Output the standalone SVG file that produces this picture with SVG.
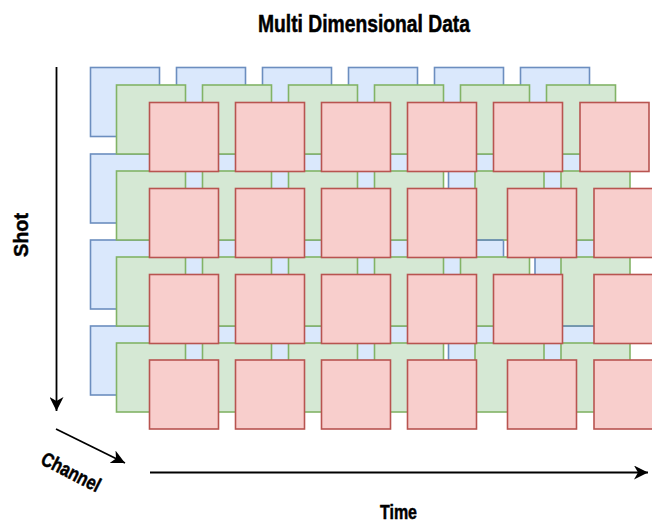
<svg xmlns="http://www.w3.org/2000/svg" width="652" height="523" viewBox="0 0 652 523">
  <style>
    .b { fill: #dae8fc; stroke: #6c8ebf; stroke-width: 1.6; }
    .g { fill: #d5e8d4; stroke: #82b366; stroke-width: 1.6; }
    .r { fill: #f8cecc; stroke: #b85450; stroke-width: 1.6; }
    .be { stroke: #6c8ebf; stroke-width: 1.6; fill: none; }
    .axis { stroke: #000; stroke-width: 1.8; fill: none; }
    .lbl { font-family: "Liberation Sans", Arial, sans-serif; font-weight: bold; fill: #000; stroke: #000; stroke-width: 0.5; }
  </style>
  <defs>
    <marker id="arrow" markerUnits="userSpaceOnUse" markerWidth="16" markerHeight="14" refX="14" refY="7" orient="auto">
      <path d="M0,0 L14,7 L0,14 L4,7 Z" fill="#000"/>
    </marker>
  </defs>
  <rect width="652" height="523" fill="#fff"/>

  <!-- title -->
  <text class="lbl" x="364" y="32" font-size="24" text-anchor="middle" textLength="212" lengthAdjust="spacingAndGlyphs">Multi Dimensional Data</text>

  <!-- back layer (blue) -->
  <g id="blue-layer">
    <g id="b11"><rect class="b" x="90.5" y="67.5" width="69" height="69"/></g>
    <g id="b12"><rect class="b" x="176.5" y="67.5" width="69" height="69"/></g>
    <g id="b13"><rect class="b" x="262.5" y="67.5" width="69" height="69"/></g>
    <g id="b14"><rect class="b" x="348.5" y="67.5" width="69" height="69"/></g>
    <g id="b15"><rect class="b" x="434.5" y="67.5" width="69" height="69"/></g>
    <g id="b16"><rect class="b" x="520.5" y="67.5" width="69" height="69"/></g>

    <g id="b21"><rect class="b" x="90.5" y="154" width="69" height="69"/></g>
    <g id="b22"><rect class="b" x="176.5" y="154" width="69" height="69"/></g>
    <g id="b23"><rect class="b" x="262.5" y="154" width="69" height="69"/></g>
    <g id="b24"><rect class="b" x="348.5" y="154" width="69" height="69"/></g>
    <g id="b25"><rect class="b" x="448.5" y="154" width="69" height="69"/></g>
    <g id="b26"><rect class="b" x="535" y="154" width="69" height="69"/></g>

    <g id="b31"><rect class="b" x="90.5" y="240" width="69" height="69"/></g>
    <g id="b32"><rect class="b" x="176.5" y="240" width="69" height="69"/></g>
    <g id="b33"><rect class="b" x="262.5" y="240" width="69" height="69"/></g>
    <g id="b34"><rect class="b" x="348.5" y="240" width="69" height="69"/></g>
    <g id="b35"><rect class="b" x="434.5" y="240" width="69" height="69"/></g>
    <g id="b36"><rect class="b" x="535" y="240" width="69" height="69"/></g>

    <g id="b41"><rect class="b" x="90.5" y="326" width="69" height="69"/></g>
    <g id="b42"><rect class="b" x="176.5" y="326" width="69" height="69"/></g>
    <g id="b43"><rect class="b" x="262.5" y="326" width="69" height="69"/></g>
    <g id="b44"><rect class="b" x="348.5" y="326" width="69" height="69"/></g>
    <g id="b45"><rect class="b" x="448.5" y="326" width="69" height="69"/></g>
    <g id="b46"><rect class="b" x="535" y="326" width="69" height="69"/></g>
  </g>

  <!-- middle layer (green) -->
  <g id="green-layer">
    <g id="g11"><rect class="g" x="116.5" y="85" width="69" height="69"/></g>
    <g id="g12"><rect class="g" x="202.5" y="85" width="69" height="69"/></g>
    <g id="g13"><rect class="g" x="288.5" y="85" width="69" height="69"/></g>
    <g id="g14"><rect class="g" x="374.5" y="85" width="69" height="69"/></g>
    <g id="g15"><rect class="g" x="460.5" y="85" width="69" height="69"/></g>
    <g id="g16"><rect class="g" x="546.5" y="85" width="69" height="69"/></g>

    <g id="g21"><rect class="g" x="116.5" y="171" width="69" height="69"/></g>
    <g id="g22"><rect class="g" x="202.5" y="171" width="69" height="69"/></g>
    <g id="g23"><rect class="g" x="288.5" y="171" width="69" height="69"/></g>
    <g id="g24"><rect class="g" x="374.5" y="171" width="69" height="69"/></g>
    <g id="g25"><rect class="g" x="475" y="171" width="69" height="69"/></g>
    <g id="g26"><rect class="g" x="561" y="171" width="69" height="69"/></g>

    <g id="g31"><rect class="g" x="116.5" y="257" width="69" height="69"/></g>
    <g id="g32"><rect class="g" x="202.5" y="257" width="69" height="69"/></g>
    <g id="g33"><rect class="g" x="288.5" y="257" width="69" height="69"/></g>
    <g id="g34"><rect class="g" x="374.5" y="257" width="69" height="69"/></g>
    <g id="g35"><rect class="g" x="460.5" y="257" width="69" height="69"/></g>
    <g id="g36"><rect class="g" x="561" y="257" width="69" height="69"/></g>

    <g id="g41"><rect class="g" x="116.5" y="343" width="69" height="69"/></g>
    <g id="g42"><rect class="g" x="202.5" y="343" width="69" height="69"/></g>
    <g id="g43"><rect class="g" x="288.5" y="343" width="69" height="69"/></g>
    <g id="g44"><rect class="g" x="374.5" y="343" width="69" height="69"/></g>
    <g id="g45"><rect class="g" x="475" y="343" width="69" height="69"/></g>
    <g id="g46"><rect class="g" x="561" y="343" width="69" height="69"/></g>
  </g>

  <!-- top edges of two blue tiles that sit over the green border -->
  <g id="blue-edges">
    <line class="be" x1="475" y1="240" x2="503.5" y2="240"/>
    <line class="be" x1="562" y1="326" x2="604" y2="326"/>
  </g>

  <!-- front layer (red) -->
  <g id="red-layer">
    <g id="r11"><rect class="r" x="149.5" y="102.5" width="69" height="69"/></g>
    <g id="r12"><rect class="r" x="235.5" y="102.5" width="69" height="69"/></g>
    <g id="r13"><rect class="r" x="321.5" y="102.5" width="69" height="69"/></g>
    <g id="r14"><rect class="r" x="407.5" y="102.5" width="69" height="69"/></g>
    <g id="r15"><rect class="r" x="493.5" y="102.5" width="69" height="69"/></g>
    <g id="r16"><rect class="r" x="580" y="102.5" width="69" height="69"/></g>

    <g id="r21"><rect class="r" x="149.5" y="188.5" width="69" height="69"/></g>
    <g id="r22"><rect class="r" x="235.5" y="188.5" width="69" height="69"/></g>
    <g id="r23"><rect class="r" x="321.5" y="188.5" width="69" height="69"/></g>
    <g id="r24"><rect class="r" x="407.5" y="188.5" width="69" height="69"/></g>
    <g id="r25"><rect class="r" x="507.5" y="188.5" width="69" height="69"/></g>
    <g id="r26"><rect class="r" x="594" y="188.5" width="69" height="69"/></g>

    <g id="r31"><rect class="r" x="149.5" y="274.5" width="69" height="69"/></g>
    <g id="r32"><rect class="r" x="235.5" y="274.5" width="69" height="69"/></g>
    <g id="r33"><rect class="r" x="321.5" y="274.5" width="69" height="69"/></g>
    <g id="r34"><rect class="r" x="407.5" y="274.5" width="69" height="69"/></g>
    <g id="r35"><rect class="r" x="493.5" y="274.5" width="69" height="69"/></g>
    <g id="r36"><rect class="r" x="594" y="274.5" width="69" height="69"/></g>

    <g id="r41"><rect class="r" x="149.5" y="360" width="69" height="69"/></g>
    <g id="r42"><rect class="r" x="235.5" y="360" width="69" height="69"/></g>
    <g id="r43"><rect class="r" x="321.5" y="360" width="69" height="69"/></g>
    <g id="r44"><rect class="r" x="407.5" y="360" width="69" height="69"/></g>
    <g id="r45"><rect class="r" x="507.5" y="360" width="69" height="69"/></g>
    <g id="r46"><rect class="r" x="594" y="360" width="69" height="69"/></g>
  </g>

  <!-- axes -->
  <g id="connectors">
    <line id="axis-shot" class="axis" x1="56.5" y1="67" x2="56.5" y2="411" marker-end="url(#arrow)"/>
    <line id="axis-channel" class="axis" x1="56" y1="429" x2="125" y2="463" marker-end="url(#arrow)"/>
    <line id="axis-time" class="axis" x1="150" y1="472.5" x2="648" y2="472.5" marker-end="url(#arrow)"/>
  </g>

  <!-- axis labels -->
  <g id="labels">
    <text class="lbl" font-size="20" text-anchor="middle" textLength="44" lengthAdjust="spacingAndGlyphs" transform="translate(27.5,235) rotate(-90)">Shot</text>
    <text class="lbl" font-size="20" text-anchor="middle" textLength="64" lengthAdjust="spacingAndGlyphs" transform="translate(68,478) rotate(27)">Channel</text>
    <text class="lbl" x="398.5" y="519" font-size="20" text-anchor="middle" textLength="37" lengthAdjust="spacingAndGlyphs">Time</text>
  </g>
</svg>
